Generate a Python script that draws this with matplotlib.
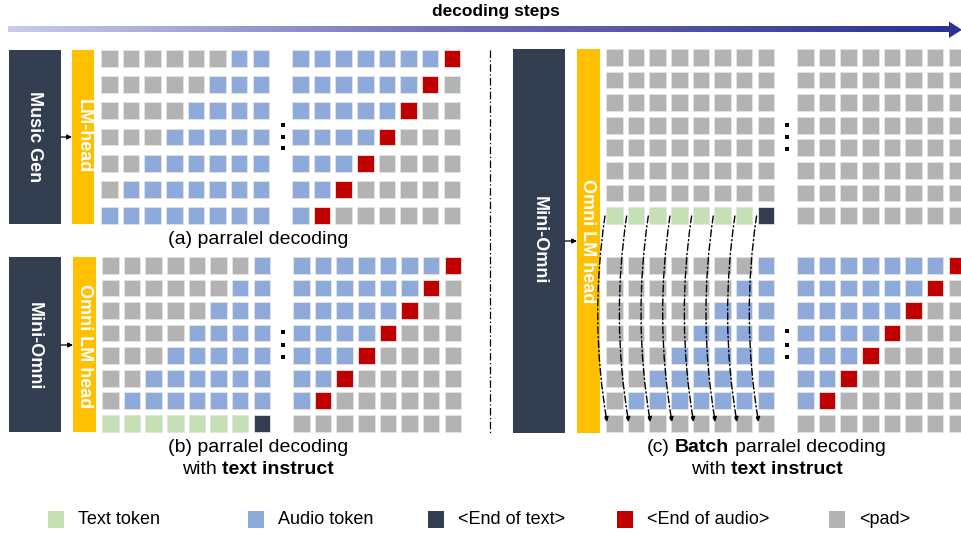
import matplotlib
matplotlib.use("Agg")
import matplotlib.pyplot as plt
import numpy as np
from matplotlib.patches import Rectangle, Polygon, FancyArrowPatch
from matplotlib.colors import LinearSegmentedColormap

plt.rcParams['font.family'] = ['Liberation Sans', 'DejaVu Sans']

# token colours: g=<pad>, b=audio, r=<end of audio>, t=text, e=<end of text>
COLORS = {'g': '#b3b3b3', 'b': '#8eaadb', 'r': '#c00000', 't': '#c5e0b4', 'e': '#333f50'}

# (a) parallel decoding
a_left = ["ggggggbb", "gggggbbb", "ggggbbbb", "gggbbbbb", "ggbbbbbb", "gbbbbbbb", "bbbbbbbb"]
a_right = ["bbbbbbbr", "bbbbbbrg", "bbbbbrgg", "bbbbrggg", "bbbrgggg", "bbrggggg", "brgggggg"]

# (b) parallel decoding with text instruct
b_left = ["gggggggb", "ggggggbb", "gggggbbb", "ggggbbbb", "gggbbbbb", "ggbbbbbb", "gbbbbbbb", "ttttttte"]
b_right = ["bbbbbbbr", "bbbbbbrg", "bbbbbrgg", "bbbbrggg", "bbbrgggg", "bbrggggg", "brgggggg", "gggggggg"]

# (c) batch parallel decoding
c_top_left = ["gggggggg"] * 7 + ["ttttttte"]
c_top_right = ["gggggggg"] * 8
c_bot_left = ["gggggggb", "ggggggbb", "gggggbbb", "ggggbbbb", "gggbbbbb", "ggbbbbbb", "gbbbbbbb", "gggggggg"]
c_bot_right = ["bbbbbbbr", "bbbbbbrg", "bbbbbrgg", "bbbbrggg", "bbbrgggg", "bbrggggg", "brgggggg", "gggggggg"]

legend_labels = ["Text token", "Audio token", "<End of text>", "<End of audio>", "<pad>"]
legend_keys = ['t', 'b', 'e', 'r', 'g']

W, H = 962, 533
fig = plt.figure(figsize=(W / 100, H / 100), dpi=100)
ax = fig.add_axes([0, 0, 1, 1])
ax.set_xlim(0, W)
ax.set_ylim(H, 0)
ax.axis('off')

CW, CH = 16.6, 16.8   # cell size
PX = 21.65            # horizontal pitch


def grid(rows, x0, y0, py):
    for r, row in enumerate(rows):
        for c, k in enumerate(row):
            ax.add_patch(Rectangle((x0 + c * PX, y0 + r * py), CW, CH,
                                   facecolor=COLORS[k], edgecolor='#e3e3e3', lw=0.6))


def dots(x, ys):
    ax.scatter([x] * len(ys), ys, marker='s', s=7, color='black', zorder=5, linewidths=0)


def vlabel(x, y, s, size=13):
    ax.text(x, y, s, rotation=-90, ha='center', va='center', color='white',
            fontsize=size, fontweight='bold')


def small_arrow(x0, x1, y):
    ax.annotate('', xy=(x1, y), xytext=(x0, y),
                arrowprops=dict(arrowstyle='-|>', lw=0.9, color='black',
                                mutation_scale=7, shrinkA=0, shrinkB=0))


renderer = fig.canvas.get_renderer()


def rich(xc, y, parts, size=14):
    texts, widths = [], []
    gap = 0.278 * size * 100 / 72
    for s, w in parts:
        t = ax.text(0, y, s, fontsize=size, fontweight=w, ha='left', va='center')
        texts.append(t)
        widths.append(t.get_window_extent(renderer=renderer).width)
    total = sum(widths) + gap * (len(parts) - 1)
    x = xc - total / 2
    for t, wd in zip(texts, widths):
        t.set_x(x)
        x += wd + gap


# ---- top "decoding steps" arrow
cmap = LinearSegmentedColormap.from_list('steps', ['#cacaec', '#6a6ab8', '#2e3192'])
ax.imshow(np.linspace(0, 1, 256).reshape(1, -1), cmap=cmap, aspect='auto',
          extent=(8, 950, 32.5, 27), zorder=1)
ax.add_patch(Polygon([(949, 21.5), (962, 29.8), (949, 38)], closed=True,
                     facecolor='#2e3192', edgecolor='none'))
ax.text(496, 11.5, "decoding steps", ha='center', va='center', fontsize=12.5, fontweight='bold')

# ---- panel (a)
ax.add_patch(Rectangle((9, 50), 52, 174, facecolor='#333f50'))
ax.add_patch(Rectangle((72, 50), 22, 174, facecolor='#ffc000'))
vlabel(34, 137, "Music Gen")
vlabel(83, 136, "LM-head")
small_arrow(61, 72, 137)
grid(a_left, 101, 50, 26.2)
grid(a_right, 292, 50, 26.2)
dots(283, [125, 137, 148])
rich(258, 240, [("(a) parralel decoding", 'normal')])

# ---- panel (b)
ax.add_patch(Rectangle((9, 257), 52, 175, facecolor='#333f50'))
ax.add_patch(Rectangle((73, 257), 23, 175, facecolor='#ffc000'))
vlabel(34, 346, "Mini-Omni")
vlabel(84, 346, "Omni LM head")
small_arrow(61, 73, 345)
grid(b_left, 102, 257, 22.55)
grid(b_right, 293, 257, 22.55)
dots(283, [332, 345, 357])
rich(258, 447, [("(b) parralel decoding", 'normal')])
rich(258, 470, [("with", 'normal'), ("text instruct", 'bold')])

# ---- separator
ax.plot([490, 490], [50, 435], color='black', lw=0.9, ls=(0, (6, 2, 1, 2)))

# ---- panel (c)
ax.add_patch(Rectangle((513, 49), 52, 384, facecolor='#333f50'))
ax.add_patch(Rectangle((577, 49), 23, 384, facecolor='#ffc000'))
vlabel(539, 240, "Mini-Omni")
vlabel(588, 241, "Omni LM head")
small_arrow(565, 577, 241)
grid(c_top_left, 606, 49, 22.6)
grid(c_top_right, 797, 49, 22.6)
grid(c_bot_left, 606, 257, 22.55)
grid(c_bot_right, 797, 257, 22.55)
dots(787, [125, 137, 149])
dots(787, [331, 345, 357])
for k in range(len(c_top_left[-1])):
    xs = 606 + k * PX
    arr = FancyArrowPatch((xs - 1, 216), (xs + 1, 422),
                          connectionstyle='arc3,rad=0.08', arrowstyle='-|>',
                          mutation_scale=7, lw=1.0, color='black',
                          linestyle=(0, (5, 2, 1, 2)), shrinkA=0, shrinkB=0, zorder=6)
    ax.add_patch(arr)
rich(766, 448, [("(c)", 'normal'), ("Batch", 'bold'), ("parralel decoding", 'normal')])
rich(767, 470, [("with", 'normal'), ("text instruct", 'bold')])

# ---- legend
legend_x = [48, 248, 428, 617, 829]
for x, key, lab in zip(legend_x, legend_keys, legend_labels):
    ax.add_patch(Rectangle((x, 511), 16.5, 17, facecolor=COLORS[key], edgecolor='none'))
    ax.text(x + 30.5, 520, lab, ha='left', va='center', fontsize=13)

fig.savefig('out.png', dpi=100)
